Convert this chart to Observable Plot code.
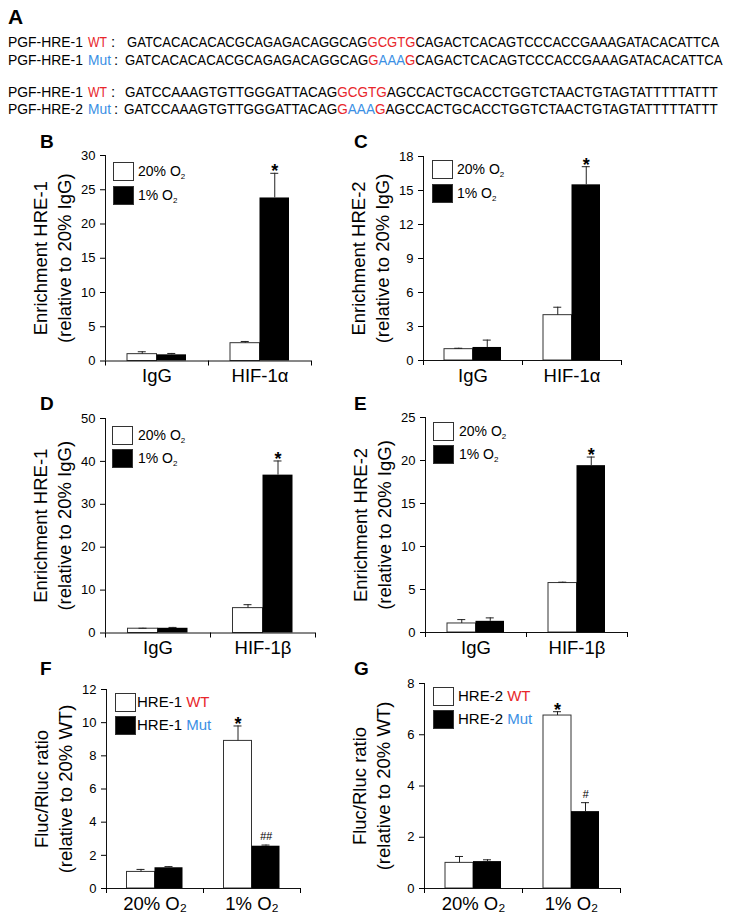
<!DOCTYPE html>
<html><head><meta charset="utf-8">
<script src="https://cdn.jsdelivr.net/npm/d3@7"></script>
<script src="https://cdn.jsdelivr.net/npm/@observablehq/plot@0.6"></script>
<style>
body{margin:0;background:#fff;font-family:"Liberation Sans",Arial,Helvetica,sans-serif;}
#fig{position:relative;width:730px;height:923px;overflow:hidden;background:#fff;}
#fig svg{position:absolute;}
</style></head><body><div id="fig"></div>
<script>
// ---------- Panel A: sequences ----------
const seqNames = ["PGF-HRE-1", "PGF-HRE-1", "PGF-HRE-1", "PGF-HRE-2"];
const seqTags = ["WT", "Mut", "WT", "Mut"];
const seqLeft = ["GATCACACACACGCAGAGACAGGCAG", "GATCACACACACGCAGAGACAGGCAG", "GATCCAAAGTGTTGGGATTACAG", "GATCCAAAGTGTTGGGATTACAG"];
const seqSite = ["GCGTG", "GAAAG", "GCGTG", "GAAAG"];
const seqRight = ["CAGACTCACAGTCCCACCGAAAGATACACATTCA", "CAGACTCACAGTCCCACCGAAAGATACACATTCA", "AGCCACTGCACCTGGTCTAACTGTAGTATTTTTATTT", "AGCCACTGCACCTGGTCTAACTGTAGTATTTTTATTT"];

// ---------- Bar chart data ----------
const chipGroupsA = ["IgG", "HIF-1α"];
const chipGroupsB = ["IgG", "HIF-1β"];
const lucGroups = ["20% O₂", "1% O₂"];
const chipSeries = ["20% O₂", "1% O₂"];
const lucSeriesF = ["HRE-1 WT", "HRE-1 Mut"];
const lucSeriesG = ["HRE-2 WT", "HRE-2 Mut"];

// B: HRE-1 ChIP HIF-1α
const bWhite = [1.0, 2.6], bWhiteErr = [1.35, 2.85], bBlack = [0.9, 23.8], bBlackErr = [1.1, 27.4];
const bSigWhite = ["", ""], bSigBlack = ["", "*"];
const bTicks = [0, 5, 10, 15, 20, 25, 30];
// C: HRE-2 ChIP HIF-1α
const cWhite = [1.0, 4.0], cWhiteErr = [1.08, 4.7], cBlack = [1.15, 15.5], cBlackErr = [1.8, 17.1];
const cSigWhite = ["", ""], cSigBlack = ["", "*"];
const cTicks = [0, 3, 6, 9, 12, 15, 18];
// D: HRE-1 ChIP HIF-1β
const dWhite = [1.0, 5.8], dWhiteErr = [1.1, 6.6], dBlack = [1.1, 36.8], dBlackErr = [1.3, 40.1];
const dSigWhite = ["", ""], dSigBlack = ["", "*"];
const dTicks = [0, 10, 20, 30, 40, 50];
// E: HRE-2 ChIP HIF-1β
const eWhite = [1.05, 5.75], eWhiteErr = [1.5, 5.85], eBlack = [1.3, 19.4], eBlackErr = [1.7, 20.4];
const eSigWhite = ["", ""], eSigBlack = ["", "*"];
const eTicks = [0, 5, 10, 15, 20, 25];
// F: HRE-1 luciferase
const fWhite = [1.0, 8.9], fWhiteErr = [1.15, 9.8], fBlack = [1.25, 2.55], fBlackErr = [1.32, 2.62];
const fSigWhite = ["", "*"], fSigBlack = ["", "##"];
const fTicks = [0, 2, 4, 6, 8, 10, 12];
// G: HRE-2 luciferase
const gWhite = [1.0, 6.75], gWhiteErr = [1.25, 6.9], gBlack = [1.05, 3.0], gBlackErr = [1.12, 3.35];
const gSigWhite = ["", "*"], gSigBlack = ["", "#"];
const gTicks = [0, 2, 4, 6, 8];

const RED = "#e8262b", BLUE = "#3b8fe4";
const FONT = "Liberation Sans, Arial, Helvetica, sans-serif";

const fig = d3.select("#fig");
const ov = fig.append("svg").attr("width", 730).attr("height", 923)
  .style("left", "0px").style("top", "0px").attr("font-family", FONT);

// fit a text element horizontally into a target width by scaling
function fitText(sel, x, y, target) {
  const natural = sel.node().getComputedTextLength();
  const s = natural > 0 ? target / natural : 1;
  sel.attr("x", 0).attr("y", 0).attr("transform", `translate(${x},${y}) scale(${s},1)`);
}

// Panel A text
ov.append("text").attr("x", 8).attr("y", 24).attr("font-size", 21).attr("font-weight", "bold").text("A");
const rowY = [47, 65, 97, 114];
const seqX = [127, 125, 125, 124];
const seqEnd = [720, 723, 718, 718];
seqNames.forEach((name, i) => {
  const y = rowY[i];
  const n = ov.append("text").attr("font-size", 15).text(name);
  fitText(n, 8, y, 75);
  const isWT = seqTags[i] === "WT";
  const tg = ov.append("text").attr("font-size", 15).attr("fill", isWT ? RED : BLUE).text(seqTags[i]);
  fitText(tg, 88, y, isWT ? 19 : 23);
  ov.append("text").attr("x", isWT ? 111 : 114).attr("y", y).attr("font-size", 15).text(":");
  const t = ov.append("text").attr("font-size", 15);
  t.append("tspan").text(seqLeft[i]);
  for (const ch of seqSite[i]) {
    t.append("tspan").attr("fill", (isWT || ch === "G") ? RED : BLUE).text(ch);
  }
  t.append("tspan").text(seqRight[i]);
  fitText(t, seqX[i], y, seqEnd[i] - seqX[i]);
});

// Panel letters
const letters = [["B", 40, 148], ["C", 354, 148], ["D", 40, 410], ["E", 354, 410], ["F", 40, 675], ["G", 354, 675]];
letters.forEach(([l, x, y]) => ov.append("text").attr("x", x).attr("y", y).attr("font-size", 19).attr("font-weight", "bold").text(l));

// Legends
function legend(x, y1, y2, tx, labels, fs) {
  [[y1, "white"], [y2, "black"]].forEach(([y, fill], k) => {
    ov.append("rect").attr("x", x + 0.5).attr("y", y + 0.5).attr("width", 20).attr("height", 18)
      .attr("fill", fill).attr("stroke", "#333").attr("stroke-width", 1);
    const t = ov.append("text").attr("x", tx).attr("y", y + 14).attr("font-size", fs);
    const lab = labels[k];
    if (lab.includes("₂")) {
      t.append("tspan").text(lab.replace("₂", ""));
      t.append("tspan").attr("font-size", 8).attr("dy", 3).text("2");
    } else {
      const parts = lab.split(" ");
      t.append("tspan").text(parts[0] + " ");
      t.append("tspan").attr("fill", parts[1] === "WT" ? RED : BLUE).text(parts[1]);
    }
  });
}
legend(113, 162, 186, 138, chipSeries, 14);
legend(432, 160, 184, 457, chipSeries, 14);
legend(112, 426, 449, 138, chipSeries, 14);
legend(433, 422, 445, 459, chipSeries, 14);
legend(115, 693, 716, 137, lucSeriesF, 15);
legend(433, 687, 710, 458, lucSeriesG, 15);

// ---------- Bar panels ----------
function panel(cfg) {
  const {left, top, width, height, mL, mR, mT, mB, barPx, groups, white, whiteErr, black, blackErr,
         sigWhite, sigBlack, ticks, label} = cfg;
  const W = groups.map((g, i) => ({group: g, value: white[i], err: whiteErr[i], sig: sigWhite[i]}));
  const K = groups.map((g, i) => ({group: g, value: black[i], err: blackErr[i], sig: sigBlack[i]}));
  const bw = (width - mL - mR) / groups.length;
  const half = bw / 2;
  const yMax = ticks[ticks.length - 1];
  const errMarks = (rows, dx) => [
    Plot.ruleX(rows, {x: "group", y1: "value", y2: "err", dx, stroke: "#222", strokeWidth: 1}),
    Plot.tickY(rows, {x: "group", y: "err", dx, insetLeft: half - 4, insetRight: half - 4, stroke: "#222", strokeWidth: 1}),
    Plot.text(rows, {filter: d => d.sig === "*", x: "group", y: "err", text: "sig", dx, dy: 4, lineAnchor: "bottom", fontSize: 18, fontWeight: "bold", fill: "black"}),
    Plot.text(rows, {filter: d => d.sig.startsWith("#"), x: "group", y: "err", text: "sig", dx, dy: -5, lineAnchor: "bottom", fontSize: 11, fontStyle: "italic", fill: "black"})
  ];
  const svg = Plot.plot({
    width, height, marginLeft: mL, marginRight: mR, marginTop: mT, marginBottom: mB,
    style: {background: "transparent", fontFamily: FONT, color: "black", overflow: "visible"},
    x: {type: "band", domain: groups, padding: 0, axis: null, label: null},
    y: {domain: [0, yMax], axis: null, label: null},
    marks: [
      Plot.barY(W, {x: "group", y: "value", fill: "white", stroke: "#333", strokeWidth: 1, insetLeft: half - barPx, insetRight: half}),
      Plot.barY(K, {x: "group", y: "value", fill: "black", insetLeft: half, insetRight: half - barPx}),
      ...errMarks(W, -barPx / 2),
      ...errMarks(K, barPx / 2),
      Plot.ruleY([0], {stroke: "#111"}),
      Plot.ruleX([groups[0]], {x: d => d, y1: 0, y2: yMax, dx: -half, stroke: "#111"}),
      Plot.axisY(ticks, {tickSize: 5, tickPadding: 5, fontSize: 13, label: null}),
      Plot.axisX({tickSize: 0, tickPadding: 8, fontSize: 18.5, label: null}),
      Plot.axisX({tickSize: 5, tickFormat: () => "", dx: half, label: null}),
      Plot.axisX([groups[0]], {tickSize: 5, tickFormat: () => "", dx: -half, label: null}),
      Plot.text([label], {text: d => d, frameAnchor: "left", textAnchor: "middle", lineAnchor: "middle", rotate: -90, dx: -54, fontSize: 18.5, lineHeight: 1.3, fill: "black"})
    ]
  });
  d3.select(svg).style("left", left + "px").style("top", top + "px");
  fig.node().appendChild(svg);
}

const chip1 = "Enrichment HRE-1\n(relative to 20% IgG)";
const chip2 = "Enrichment HRE-2\n(relative to 20% IgG)";
const lucLab = "Fluc/Rluc ratio\n(relative to 20% WT)";

panel({left: 0, top: 110, width: 365, height: 290, mL: 105, mR: 54, mT: 45, mB: 39.5, barPx: 29.5,
  groups: chipGroupsA, white: bWhite, whiteErr: bWhiteErr, black: bBlack, blackErr: bBlackErr,
  sigWhite: bSigWhite, sigBlack: bSigBlack, ticks: bTicks, label: chip1});
panel({left: 365, top: 110, width: 365, height: 290, mL: 58, mR: 109, mT: 46, mB: 40, barPx: 28.5,
  groups: chipGroupsA, white: cWhite, whiteErr: cWhiteErr, black: cBlack, blackErr: cBlackErr,
  sigWhite: cSigWhite, sigBlack: cSigBlack, ticks: cTicks, label: chip2});
panel({left: 0, top: 380, width: 365, height: 290, mL: 105, mR: 50, mT: 38, mB: 37.5, barPx: 30,
  groups: chipGroupsB, white: dWhite, whiteErr: dWhiteErr, black: dBlack, blackErr: dBlackErr,
  sigWhite: dSigWhite, sigBlack: dSigBlack, ticks: dTicks, label: chip1});
panel({left: 365, top: 380, width: 365, height: 290, mL: 60, mR: 103, mT: 37, mB: 38, barPx: 28.5,
  groups: chipGroupsB, white: eWhite, whiteErr: eWhiteErr, black: eBlack, blackErr: eBlackErr,
  sigWhite: eSigWhite, sigBlack: eSigBlack, ticks: eTicks, label: chip2});
panel({left: 0, top: 650, width: 365, height: 273, mL: 106, mR: 65, mT: 39, mB: 35, barPx: 28,
  groups: lucGroups, white: fWhite, whiteErr: fWhiteErr, black: fBlack, blackErr: fBlackErr,
  sigWhite: fSigWhite, sigBlack: fSigBlack, ticks: fTicks, label: lucLab});
panel({left: 365, top: 650, width: 365, height: 273, mL: 59, mR: 110, mT: 33, mB: 35, barPx: 28,
  groups: lucGroups, white: gWhite, whiteErr: gWhiteErr, black: gBlack, blackErr: gBlackErr,
  sigWhite: gSigWhite, sigBlack: gSigBlack, ticks: gTicks, label: lucLab});
</script></body></html>
